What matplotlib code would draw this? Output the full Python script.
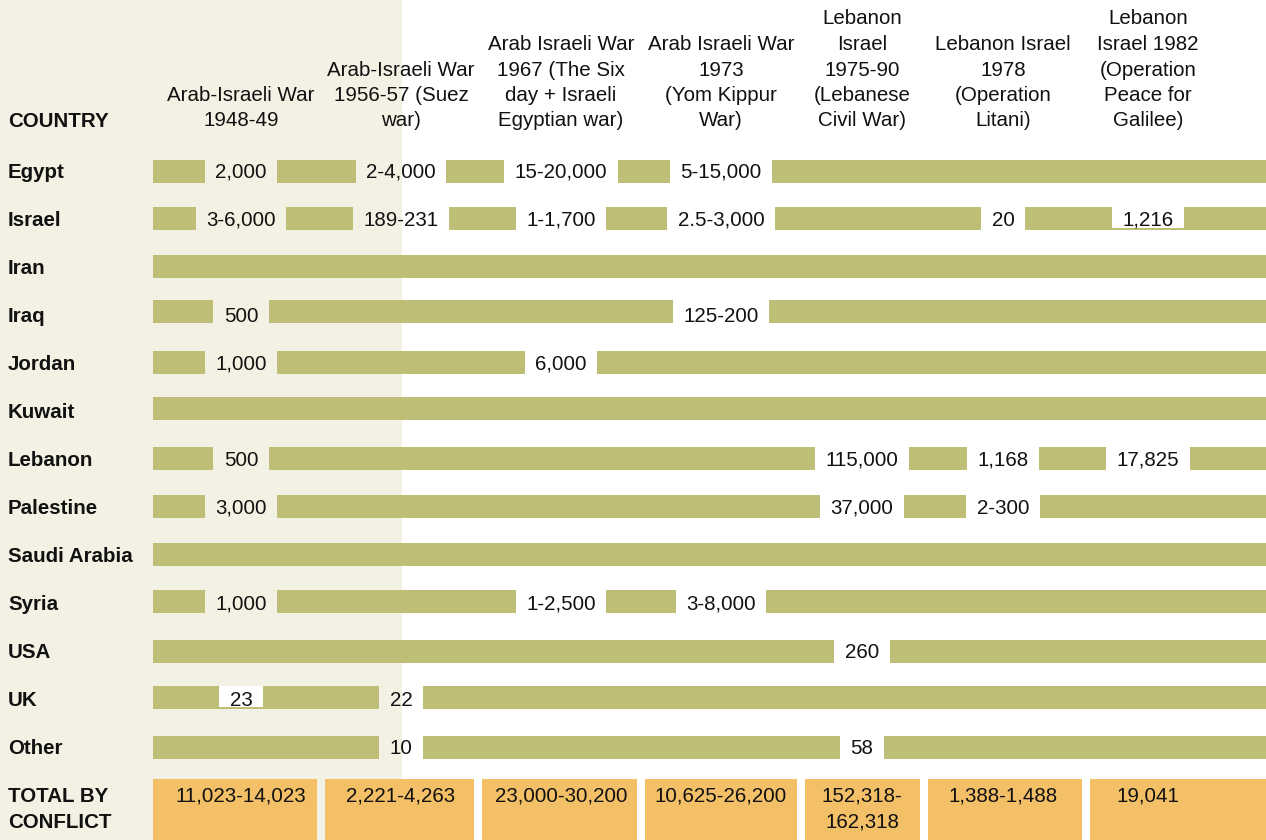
import matplotlib.pyplot as plt

plt.rcParams['font.family'] = ['Liberation Sans', 'DejaVu Sans']

countries = ["Egypt", "Israel", "Iran", "Iraq", "Jordan", "Kuwait", "Lebanon",
             "Palestine", "Saudi Arabia", "Syria", "USA", "UK", "Other"]

conflicts = [
    "Arab-Israeli War\n1948-49",
    "Arab-Israeli War\n1956-57 (Suez\nwar)",
    "Arab Israeli War\n1967 (The Six\nday + Israeli\nEgyptian war)",
    "Arab Israeli War\n1973\n(Yom Kippur\nWar)",
    "Lebanon\nIsrael\n1975-90\n(Lebanese\nCivil War)",
    "Lebanon Israel\n1978\n(Operation\nLitani)",
    "Lebanon\nIsrael 1982\n(Operation\nPeace for\nGalilee)",
]

# deaths per country, one entry per conflict ("" = nothing listed)
egypt = ["2,000", "2-4,000", "15-20,000", "5-15,000", "", "", ""]
israel = ["3-6,000", "189-231", "1-1,700", "2.5-3,000", "", "20", "1,216"]
iran = ["", "", "", "", "", "", ""]
iraq = ["500", "", "", "125-200", "", "", ""]
jordan = ["1,000", "", "6,000", "", "", "", ""]
kuwait = ["", "", "", "", "", "", ""]
lebanon = ["500", "", "", "", "115,000", "1,168", "17,825"]
palestine = ["3,000", "", "", "", "37,000", "2-300", ""]
saudi = ["", "", "", "", "", "", ""]
syria = ["1,000", "", "1-2,500", "3-8,000", "", "", ""]
usa = ["", "", "", "", "260", "", ""]
uk = ["23", "22", "", "", "", "", ""]
other = ["", "10", "", "", "58", "", ""]
deaths = [egypt, israel, iran, iraq, jordan, kuwait, lebanon,
          palestine, saudi, syria, usa, uk, other]

totals = ["11,023-14,023", "2,221-4,263", "23,000-30,200", "10,625-26,200",
          "152,318-\n162,318", "1,388-1,488", "19,041"]

# layout (pixels)
col_x = [241, 401, 561, 721, 862, 1003, 1148]
row_y = [171.3, 218.3, 266.3, 311.3, 362.3, 408.3, 458.3,
         506.3, 554.3, 601.3, 651.3, 697.3, 747.3]
text_y0, text_dy = 177.7, 48
boxed = [(1, 6), (11, 0)]  # labels sitting on a white box over the bar
box_edges = [(153, 317), (325, 474), (482, 637), (645, 797),
             (805, 920), (928, 1082), (1090, 1266)]
bar_left, bar_right = 153, 1266
bar_h = 22.7
pad = 10.5
fs = 14.8

cream = '#f3f1e3'
olive = '#bfbe77'
orange = '#f4c067'
ink = '#111111'

fig = plt.figure(figsize=(12.66, 8.4), dpi=100)
ax = fig.add_axes([0, 0, 1, 1])
ax.set_xlim(0, 1266)
ax.set_ylim(840, 0)
ax.axis('off')
ax.axvspan(0, 402, color=cream, zorder=0, lw=0)

# column headers, bottom-aligned
ax.text(8, 127, "COUNTRY", fontsize=fs, weight='bold', color=ink, va='baseline')
for c, head in enumerate(conflicts):
    for k, line in enumerate(reversed(head.split('\n'))):
        ax.text(col_x[c], 126.5 - 25.5 * k, line, fontsize=fs, color=ink,
                ha='center', va='baseline')

renderer = fig.canvas.get_renderer()
inv = ax.transData.inverted()

for r, (name, vals) in enumerate(zip(countries, deaths)):
    yc = row_y[r]
    ty = text_y0 + text_dy * r
    ax.text(8, ty, name, fontsize=fs, weight='bold', color=ink, va='baseline')
    gaps = []
    for c, v in enumerate(vals):
        if not v:
            continue
        t = ax.text(col_x[c], ty, v, fontsize=fs, color=ink,
                    ha='center', va='baseline', zorder=4)
        bb = t.get_window_extent(renderer)
        x0 = inv.transform((bb.x0, bb.y0))[0]
        x1 = inv.transform((bb.x1, bb.y0))[0]
        gaps.append((x0 - pad, x1 + pad, (r, c) in boxed))
    start = bar_left
    for g0, g1, is_boxed in gaps:
        ax.barh(yc, g0 - start, left=start, height=bar_h, color=olive, lw=0, zorder=2)
        if is_boxed:
            ax.barh(yc, g1 - g0, left=g0, height=bar_h, color=olive, lw=0, zorder=2)
            ax.barh(yc - 1, g1 - g0, left=g0, height=bar_h - 1.5, color='white',
                    lw=0, zorder=3)
        start = g1
    ax.barh(yc, bar_right - start, left=start, height=bar_h, color=olive, lw=0, zorder=2)

# totals row
for k, line in enumerate(["TOTAL BY", "CONFLICT"]):
    ax.text(8, 802 + 26 * k, line, fontsize=fs, weight='bold', color=ink, va='baseline')
for c, tot in enumerate(totals):
    x0, x1 = box_edges[c]
    ax.bar(x0, 61, width=x1 - x0, bottom=779, align='edge', color=orange, lw=0, zorder=2)
    for k, line in enumerate(tot.split('\n')):
        ax.text(col_x[c], 802 + 26 * k, line, fontsize=fs, color=ink,
                ha='center', va='baseline', zorder=3)

fig.savefig('out.png', dpi=100)
